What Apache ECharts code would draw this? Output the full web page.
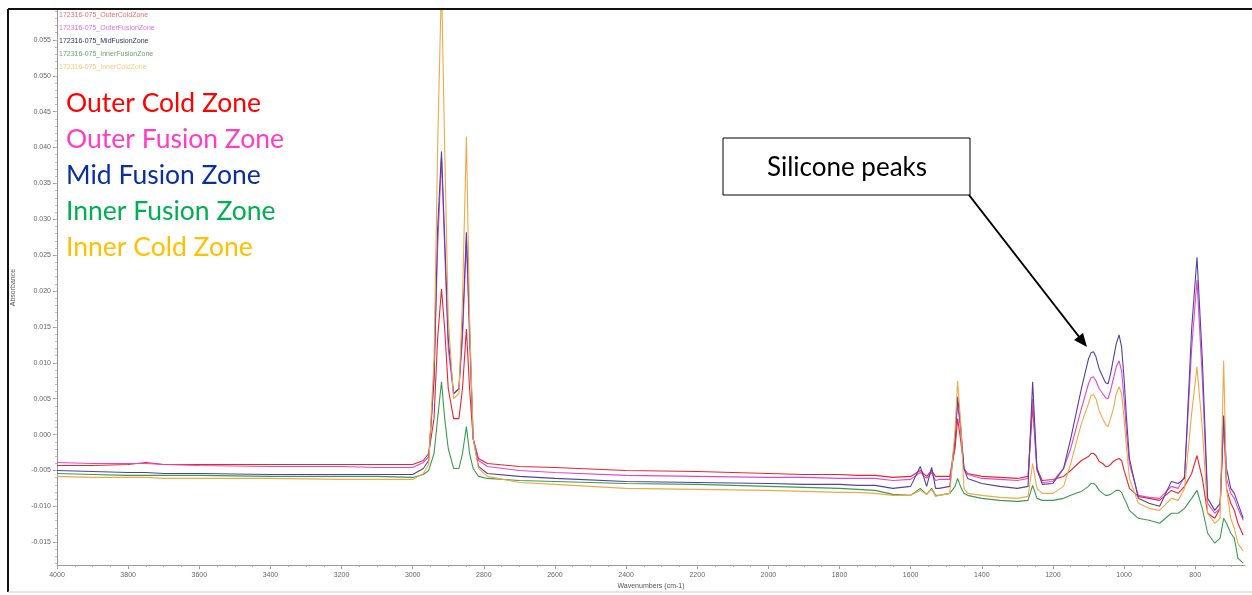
<!DOCTYPE html>
<html>
<head>
<meta charset="utf-8">
<script src="https://cdn.jsdelivr.net/npm/echarts@6/dist/echarts.min.js"></script>
<style>
html,body{margin:0;padding:0;background:#fff;}
#chart{width:1252px;height:595px;}
</style>
</head>
<body>
<div id="chart"></div>
<script>
// Wavenumber grid (cm-1)
const wavenumbers = [4000,3900,3800,3750,3700,3600,3400,3200,3100,3000,
  2970,2955,2940,2930,2919,2910,2900,2885,2870,2860,
  2849,2840,2830,2815,2790,2700,2600,2400,2200,2000,
  1900,1800,1750,1700,1650,1600,1573,1555,1541,1530,
  1520,1490,1475,1468,1460,1450,1440,1400,1350,1300,
  1270,1257,1245,1230,1200,1170,
  1150,1135,1120,1100,1093,1086,1079,1070,1060,1052,1045,1038,1030,1022,1014,1007,1000,993,985,
  960,930,900,867,848,830,810,795,780,765,745,730,720,712,700,690,680,665];

const outerColdZone = [-0.00431,-0.00431,-0.00417,-0.00389,-0.00417,-0.00417,-0.00417,-0.00417,-0.00417,-0.00417,
  -0.00361,-0.00264,0.00222,0.01333,0.02028,0.01472,0.00639,0.00222,0.00222,0.00639,
  0.01472,0.00639,-0.00056,-0.00333,-0.00403,-0.00444,-0.00458,-0.005,-0.00514,-0.00542,
  -0.00556,-0.00556,-0.00569,-0.00569,-0.00597,-0.00583,-0.005,-0.00583,-0.005,-0.00583,
  -0.00583,-0.00583,-0.00194,0.00222,-0.00056,-0.00472,-0.00542,-0.00583,-0.00597,-0.00611,
  -0.00583,0.00389,-0.00472,-0.00639,-0.00625,-0.00583,
  -0.005,-0.00431,-0.00361,-0.00306,-0.00264,-0.00264,-0.00292,-0.00375,-0.00403,-0.00444,-0.00444,-0.00417,-0.00375,-0.00347,-0.00333,-0.00361,-0.005,-0.00611,-0.0075,
  -0.00861,-0.00889,-0.00917,-0.00778,-0.00819,-0.00722,-0.00542,-0.00292,-0.00611,-0.01097,-0.01167,-0.01028,0.00222,-0.0075,-0.00958,-0.01056,-0.01236,-0.01403];

const outerFusionZone = [-0.00389,-0.00403,-0.00403,-0.00403,-0.00417,-0.00431,-0.00444,-0.00444,-0.00458,-0.00458,
  -0.00389,-0.00306,0.00778,0.02583,0.03861,0.02583,0.01194,0.00569,0.00639,0.01333,
  0.02722,0.01333,-0.00056,-0.00361,-0.00444,-0.005,-0.00528,-0.00569,-0.00583,-0.00597,
  -0.00597,-0.00611,-0.00611,-0.00611,-0.00639,-0.00625,-0.00528,-0.00611,-0.00528,-0.00639,
  -0.00625,-0.00625,-0.00056,0.00431,0.00083,-0.00472,-0.00556,-0.00611,-0.00625,-0.00639,
  -0.00611,0.005,-0.005,-0.00667,-0.00653,-0.00472,
  -0.00194,0.00083,0.00361,0.00708,0.00792,0.00806,0.0075,0.00639,0.00569,0.00514,0.005,0.00611,0.00778,0.00944,0.01028,0.00889,0.005,0.00014,-0.00403,
  -0.00847,-0.00875,-0.00889,-0.00722,-0.0075,-0.00583,0.01194,0.02153,0.00778,-0.00958,-0.01097,-0.01028,0.00222,-0.00611,-0.00819,-0.00889,-0.01028,-0.01194];

const midFusionZone = [-0.005,-0.00514,-0.00528,-0.00528,-0.00542,-0.00542,-0.00556,-0.00556,-0.00556,-0.00556,
  -0.00472,-0.00361,0.00778,0.02861,0.03944,0.02722,0.01333,0.00569,0.00639,0.01472,
  0.02819,0.01472,-0.00056,-0.00444,-0.00542,-0.00583,-0.00611,-0.00653,-0.00667,-0.00681,
  -0.00694,-0.00694,-0.00708,-0.00708,-0.0075,-0.00722,-0.00444,-0.00722,-0.00458,-0.0075,
  -0.0075,-0.00722,-0.00056,0.00528,0.00153,-0.00472,-0.00611,-0.00681,-0.00722,-0.0075,
  -0.00722,0.00736,-0.00472,-0.00694,-0.00681,-0.00472,
  -0.00056,0.00292,0.00639,0.01056,0.01139,0.01153,0.01083,0.00917,0.00806,0.00722,0.00708,0.00847,0.01056,0.01264,0.01389,0.01222,0.00778,0.00222,-0.00333,
  -0.00889,-0.00958,-0.01,-0.00653,-0.00681,-0.00611,0.01472,0.02472,0.01056,-0.00889,-0.01056,-0.00958,0.00264,-0.00472,-0.0075,-0.00819,-0.00958,-0.01167];

const innerFusionZone = [-0.00542,-0.00556,-0.00569,-0.00569,-0.00569,-0.00569,-0.00583,-0.00583,-0.00583,-0.00597,
  -0.00556,-0.005,-0.00264,0.00222,0.00736,0.00222,-0.00194,-0.00472,-0.00472,-0.00264,
  0.00111,-0.00264,-0.00472,-0.00583,-0.00611,-0.00639,-0.00653,-0.00681,-0.00694,-0.00722,
  -0.00736,-0.0075,-0.00764,-0.00778,-0.00833,-0.00847,-0.0075,-0.00833,-0.0075,-0.00847,
  -0.00847,-0.00819,-0.00722,-0.00611,-0.00722,-0.00819,-0.00847,-0.00889,-0.00917,-0.00931,
  -0.00917,-0.00708,-0.00889,-0.00917,-0.00917,-0.00889,
  -0.00847,-0.00819,-0.00792,-0.00722,-0.00681,-0.00681,-0.00708,-0.00778,-0.00819,-0.00847,-0.00847,-0.00833,-0.00806,-0.00778,-0.00778,-0.00806,-0.00889,-0.00958,-0.01056,
  -0.01167,-0.01194,-0.01236,-0.01097,-0.01097,-0.01028,-0.00889,-0.00778,-0.01028,-0.01375,-0.01514,-0.01444,-0.01167,-0.01236,-0.01375,-0.01444,-0.01722,-0.01792];

const innerColdZone = [-0.00583,-0.00597,-0.00597,-0.00597,-0.00611,-0.00611,-0.00611,-0.00625,-0.00625,-0.00625,
  -0.00542,-0.00417,0.01056,0.03972,0.06333,0.03972,0.01611,0.005,0.00569,0.01889,
  0.04153,0.01611,-0.00056,-0.00472,-0.00583,-0.00667,-0.00694,-0.0075,-0.00764,-0.00778,
  -0.00792,-0.00806,-0.00806,-0.00819,-0.00847,-0.00847,-0.00778,-0.00833,-0.00764,-0.00861,
  -0.00847,-0.00819,0.00083,0.0075,0.00222,-0.0075,-0.00819,-0.00847,-0.00875,-0.00889,
  -0.00861,-0.00403,-0.0075,-0.00819,-0.00819,-0.00722,
  -0.00403,-0.00125,0.00153,0.00431,0.00542,0.00556,0.005,0.00333,0.00222,0.00139,0.00111,0.00222,0.00361,0.00569,0.00667,0.00569,0.00222,-0.00194,-0.00611,
  -0.00958,-0.01028,-0.01056,-0.00889,-0.00917,-0.0075,0.00292,0.00944,0.00083,-0.01097,-0.01236,-0.01167,0.01028,-0.0075,-0.01167,-0.01306,-0.01514,-0.01625];

const seriesNames = ['Outer Cold Zone','Outer Fusion Zone','Mid Fusion Zone','Inner Fusion Zone','Inner Cold Zone'];
const fileLabels = ['172316-075_OuterColdZone','172316-075_OuterFusionZone','172316-075_MidFusionZone','172316-075_InnerFusionZone','172316-075_InnerColdZone'];
const xTickLabels = [4000,3800,3600,3400,3200,3000,2800,2600,2400,2200,2000,1800,1600,1400,1200,1000,800];
const yTickLabels = [-0.015,-0.010,-0.005,0.000,0.005,0.010,0.015,0.020,0.025,0.030,0.035,0.040,0.045,0.050,0.055];

const lineColors = ['#e8262a','#e048d0','#5440a0','#3c9a50','#f0a848'];
const legendColors = ['#ff0000','#ff3cc8','#0a2f9c','#00b050','#ffc000'];
const fileColors = ['#f07070','#e070e0','#303070','#70a070','#f8c880'];

const allSeries = [outerColdZone, outerFusionZone, midFusionZone, innerFusionZone, innerColdZone];

const xMinor = []; for (let w = 4000; w >= 700; w -= 50) xMinor.push(w);
const yMinor = []; for (let k = -18; k <= 59; k++) yMinor.push(k / 1000);

const chart = echarts.init(document.getElementById('chart'));
const graphics = [];
// outer frame
graphics.push({type:'line', shape:{x1:8,y1:9,x2:1252,y2:9}, style:{stroke:'#111', lineWidth:2}, z:100});
graphics.push({type:'line', shape:{x1:8,y1:9,x2:8,y2:592}, style:{stroke:'#111', lineWidth:2}, z:100});
graphics.push({type:'line', shape:{x1:8,y1:592,x2:1252,y2:592}, style:{stroke:'#ccc', lineWidth:1}, z:100});
// small file legend
fileLabels.forEach((t,i)=>{
  graphics.push({type:'text', left:59, top:12 + i*13, style:{text:t, fill:fileColors[i], font:'7px "Liberation Sans"'}, z:50});
});
// big legend
seriesNames.forEach((t,i)=>{
  graphics.push({type:'text', x:66, y:103 + i*36, style:{text:t, fill:legendColors[i], font:'26.5px Lato', align:'left', verticalAlign:'middle'}, z:50});
});
// annotation box
graphics.push({type:'rect', shape:{x:723,y:138,width:247,height:57}, style:{fill:'#fff', stroke:'#000', lineWidth:1}, z:60});
graphics.push({type:'text', x:847, y:168, style:{text:'Silicone peaks', fill:'#000', font:'26px Lato', align:'center', verticalAlign:'middle'}, z:61});
graphics.push({type:'line', shape:{x1:969,y1:195,x2:1080,y2:338}, style:{stroke:'#000', lineWidth:2}, z:60});
graphics.push({type:'polygon', shape:{points:[[1087,347],[1074,340],[1083,333]]}, style:{fill:'#000'}, z:60});

const option = {
  animation: false,
  backgroundColor: '#fff',
  grid: {left:57, right:7, top:10, bottom:28},
  xAxis: [{
    type:'value', min:660, max:4000, inverse:true,
    name:'Wavenumbers (cm-1)', nameLocation:'middle', nameGap:17,
    nameTextStyle:{fontSize:7, color:'#555', fontFamily:'Liberation Sans'},
    axisLine:{show:true, onZero:false, lineStyle:{color:'#999', width:1}},
    axisTick:{show:true, customValues:xTickLabels, length:4, lineStyle:{color:'#999'}},
    axisLabel:{customValues:xTickLabels, fontSize:7, color:'#666', margin:6, fontFamily:'Liberation Sans',
      formatter: v => String(v)},
    splitLine:{show:false}
  },{
    type:'value', min:660, max:4000, inverse:true, position:'bottom',
    axisLine:{show:false, onZero:false},
    axisTick:{show:true, customValues:xMinor, length:2, lineStyle:{color:'#aaa'}},
    axisLabel:{show:false, customValues:xMinor},
    splitLine:{show:false}
  }],
  yAxis: [{
    type:'value', min:-0.01819, max:0.05917,
    name:'Absorbance', nameLocation:'middle', nameGap:40, nameRotate:90,
    nameTextStyle:{fontSize:7, color:'#555', fontFamily:'Liberation Sans'},
    axisLine:{show:true, onZero:false, lineStyle:{color:'#999', width:1}},
    axisTick:{show:true, customValues:yTickLabels, length:4, lineStyle:{color:'#999'}},
    axisLabel:{customValues:yTickLabels, fontSize:7, color:'#666', margin:6, fontFamily:'Liberation Sans',
      formatter: v => Number(v).toFixed(3)},
    splitLine:{show:false}
  },{
    type:'value', min:-0.01819, max:0.05917, position:'left',
    axisLine:{show:false, onZero:false},
    axisTick:{show:true, customValues:yMinor, length:2, lineStyle:{color:'#bbb'}},
    axisLabel:{show:false, customValues:yMinor},
    splitLine:{show:false}
  }],
  series: allSeries.map((arr, i) => ({
    type:'line', name:seriesNames[i], xAxisIndex:0, yAxisIndex:0,
    data: wavenumbers.map((w, j) => [w, arr[j]]),
    showSymbol:false, symbol:'none', smooth:false, clip:true,
    lineStyle:{color:lineColors[i], width:1.1},
    z: 2 + i
  })),
  graphic: graphics
};
chart.setOption(option);
</script>
</body>
</html>
